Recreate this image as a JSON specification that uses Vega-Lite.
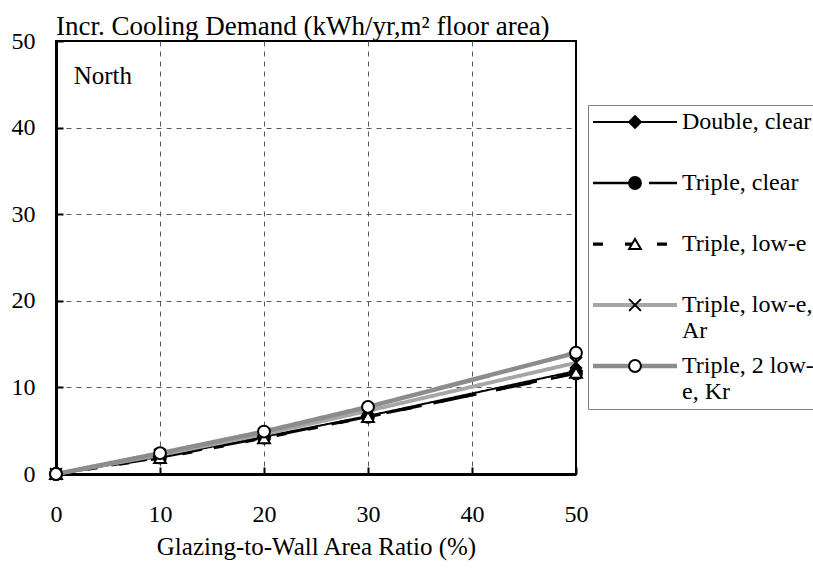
{
  "$schema": "https://vega.github.io/schema/vega-lite/v6.json",
  "width": 520,
  "height": 433,
  "autosize": "none",
  "padding": {"left": 56, "top": 41, "right": 237, "bottom": 97},
  "background": "white",
  "config": {
    "font": "Liberation Serif",
    "view": {"stroke": "black", "strokeWidth": 2},
    "axis": {
      "labelFontSize": 24,
      "labelColor": "black",
      "labelFlush": false,
      "tickSize": -7,
      "tickColor": "black",
      "tickWidth": 2,
      "domainColor": "black",
      "domainWidth": 3,
      "grid": true,
      "gridDash": [5, 5],
      "gridWidth": 1,
      "titleFontSize": 25,
      "titleFontWeight": "normal",
      "titleColor": "black"
    }
  },
  "title": {
    "text": "Incr. Cooling Demand (kWh/yr,m² floor area)",
    "anchor": "start",
    "frame": "group",
    "fontSize": 27,
    "fontWeight": "normal",
    "font": "Liberation Serif",
    "color": "black",
    "offset": -12
  },
  "data": {
    "values": [
      {"gwr": 0, "value": 0, "series": "Double, clear"},
      {"gwr": 10, "value": 2.0, "series": "Double, clear"},
      {"gwr": 20, "value": 4.3, "series": "Double, clear"},
      {"gwr": 30, "value": 6.7, "series": "Double, clear"},
      {"gwr": 50, "value": 11.9, "series": "Double, clear"},
      {"gwr": 0, "value": 0, "series": "Triple, clear"},
      {"gwr": 10, "value": 1.9, "series": "Triple, clear"},
      {"gwr": 20, "value": 4.2, "series": "Triple, clear"},
      {"gwr": 30, "value": 6.6, "series": "Triple, clear"},
      {"gwr": 50, "value": 11.6, "series": "Triple, clear"},
      {"gwr": 0, "value": 0, "series": "Triple, low-e"},
      {"gwr": 10, "value": 1.85, "series": "Triple, low-e"},
      {"gwr": 20, "value": 4.15, "series": "Triple, low-e"},
      {"gwr": 30, "value": 6.6, "series": "Triple, low-e"},
      {"gwr": 50, "value": 11.7, "series": "Triple, low-e"},
      {"gwr": 0, "value": 0, "series": "Triple, low-e, Ar"},
      {"gwr": 10, "value": 2.2, "series": "Triple, low-e, Ar"},
      {"gwr": 20, "value": 4.6, "series": "Triple, low-e, Ar"},
      {"gwr": 30, "value": 7.3, "series": "Triple, low-e, Ar"},
      {"gwr": 50, "value": 12.85, "series": "Triple, low-e, Ar"},
      {"gwr": 0, "value": 0, "series": "Triple, 2 low-e, Kr"},
      {"gwr": 10, "value": 2.4, "series": "Triple, 2 low-e, Kr"},
      {"gwr": 20, "value": 4.9, "series": "Triple, 2 low-e, Kr"},
      {"gwr": 30, "value": 7.75, "series": "Triple, 2 low-e, Kr"},
      {"gwr": 50, "value": 14.0, "series": "Triple, 2 low-e, Kr"}
    ]
  },
  "layer": [
    {
      "mark": {"type": "line", "strokeCap": "butt"},
      "encoding": {
        "x": {
          "field": "gwr",
          "type": "quantitative",
          "scale": {"domain": [0, 50], "nice": false},
          "axis": {
            "values": [0, 10, 20, 30, 40, 50],
            "title": "Glazing-to-Wall Area Ratio (%)",
            "titlePadding": 8,
            "labelPadding": 35,
            "gridColor": {"condition": {"test": "datum.value == 0 || datum.value == 50", "value": "transparent"}, "value": "#595959"}
          }
        },
        "y": {
          "field": "value",
          "type": "quantitative",
          "scale": {"domain": [0, 50], "nice": false},
          "axis": {
            "values": [0, 10, 20, 30, 40, 50],
            "title": null,
            "labelPadding": 28,
            "gridColor": {"condition": {"test": "datum.value == 0 || datum.value == 50", "value": "transparent"}, "value": "#595959"}
          }
        },
        "stroke": {
          "field": "series",
          "type": "nominal",
          "scale": {
            "domain": ["Double, clear", "Triple, clear", "Triple, low-e", "Triple, low-e, Ar", "Triple, 2 low-e, Kr"],
            "range": ["black", "black", "black", "#a6a6a6", "#8c8c8c"]
          },
          "legend": {
            "orient": "none",
            "legendX": 532,
            "legendY": 64,
            "title": null,
            "symbolType": "M-8.4,0L8.4,0",
            "symbolSize": 100,
            "symbolOffset": 30,
            "labelFontSize": 24,
            "labelFont": "Liberation Serif",
            "labelColor": "black",
            "labelLimit": 300,
            "labelOffset": 35,
            "strokeColor": "#7f7f7f",
            "fillColor": "white",
            "padding": 5,
            "rowPadding": 11,
            "gridAlign": "all",
            "labelExpr": "datum.label == 'Triple, low-e, Ar' ? ['Triple, low-e,', 'Ar'] : datum.label == 'Triple, 2 low-e, Kr' ? ['Triple, 2 low-', 'e, Kr'] : datum.label",
            "zindex": 1
          }
        },
        "strokeDash": {
          "field": "series",
          "type": "nominal",
          "scale": {
            "domain": ["Double, clear", "Triple, clear", "Triple, low-e", "Triple, low-e, Ar", "Triple, 2 low-e, Kr"],
            "range": [[1, 0], [36, 20], [10, 22], [1, 0], [1, 0]]
          }
        },
        "strokeWidth": {
          "field": "series",
          "type": "nominal",
          "scale": {
            "domain": ["Double, clear", "Triple, clear", "Triple, low-e", "Triple, low-e, Ar", "Triple, 2 low-e, Kr"],
            "range": [2, 4.5, 4.5, 4, 5]
          }
        }
      }
    },
    {
      "mark": {"type": "point", "filled": true, "stroke": "black", "strokeWidth": 2, "size": 140, "opacity": 1},
      "encoding": {
        "x": {"field": "gwr", "type": "quantitative"},
        "y": {"field": "value", "type": "quantitative"},
        "fill": {
          "field": "series",
          "type": "nominal",
          "scale": {
            "domain": ["Double, clear", "Triple, clear", "Triple, low-e", "Triple, low-e, Ar", "Triple, 2 low-e, Kr", "-"],
            "range": ["black", "black", "white", "transparent", "white", "white"]
          },
          "legend": {
            "orient": "none",
            "legendX": 532,
            "legendY": 64,
            "title": null,
            "values": ["Double, clear", "Triple, clear", "Triple, low-e", "Triple, low-e, Ar", "Triple, 2 low-e, Kr"],
            "symbolSize": 140,
            "symbolOffset": 30,
            "symbolStrokeColor": "black",
            "symbolStrokeWidth": 2,
            "labelFontSize": 24,
            "labelFont": "Liberation Serif",
            "labelColor": "transparent",
            "labelLimit": 300,
            "labelOffset": 35,
            "padding": 5,
            "rowPadding": 11,
            "gridAlign": "all",
            "labelExpr": "datum.label == 'Triple, low-e, Ar' ? ['Triple, low-e,', 'Ar'] : datum.label == 'Triple, 2 low-e, Kr' ? ['Triple, 2 low-', 'e, Kr'] : datum.label",
            "zindex": 2
          }
        },
        "shape": {
          "field": "series",
          "type": "nominal",
          "scale": {
            "domain": ["Double, clear", "Triple, clear", "Triple, low-e", "Triple, low-e, Ar", "Triple, 2 low-e, Kr", "-"],
            "range": ["diamond", "circle", "triangle-up", "M-1,-1L1,1M-1,1L1,-1", "circle", "circle"]
          }
        }
      }
    },
    {
      "data": {"values": [{"label": "North"}]},
      "mark": {"type": "text", "align": "left", "baseline": "middle", "fontSize": 25, "font": "Liberation Serif", "color": "black"},
      "encoding": {
        "x": {"datum": 1.7, "type": "quantitative"},
        "y": {"datum": 46, "type": "quantitative"},
        "text": {"field": "label", "type": "nominal"}
      }
    }
  ]
}
